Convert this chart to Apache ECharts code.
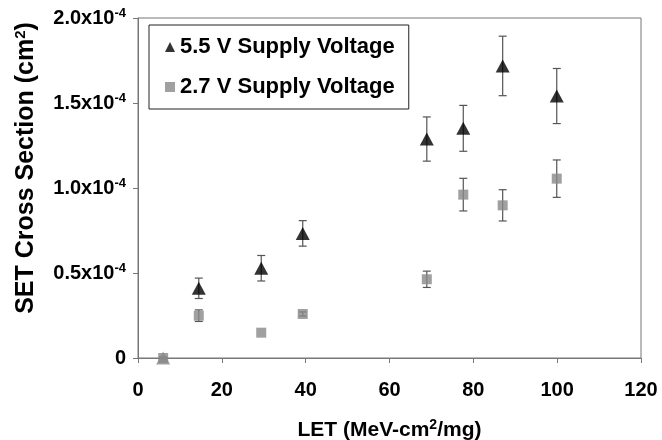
<!DOCTYPE html>
<html>
<head>
<meta charset="utf-8">
<script src="https://cdn.jsdelivr.net/npm/echarts@6/dist/echarts.min.js"></script>
<style>
html,body{margin:0;padding:0;background:#fff;}
#chart{width:662px;height:440px;}
</style>
</head>
<body>
<div id="chart"></div>
<script>
// LET values (MeV-cm^2/mg)
var letValues = [6, 14.5, 29.4, 39.3, 68.9, 77.6, 87.0, 99.9];
// 5.5 V supply voltage cross sections (cm^2) and error half-widths
var v55 = [0, 0.41e-4, 0.528e-4, 0.733e-4, 1.288e-4, 1.351e-4, 1.718e-4, 1.541e-4];
var v55Err = [0.005e-4, 0.06e-4, 0.075e-4, 0.075e-4, 0.13e-4, 0.135e-4, 0.175e-4, 0.162e-4];
// 2.7 V supply voltage cross sections (cm^2) and error half-widths
var v27 = [0, 0.249e-4, 0.149e-4, 0.259e-4, 0.463e-4, 0.961e-4, 0.898e-4, 1.055e-4];
var v27Err = [0.004e-4, 0.034e-4, 0, 0.012e-4, 0.048e-4, 0.096e-4, 0.092e-4, 0.11e-4];
var xTicks = [0, 20, 40, 60, 80, 100, 120];
var yTicks = [0, 0.5e-4, 1.0e-4, 1.5e-4, 2.0e-4];

var FONT = '"Liberation Sans", Arial, sans-serif';

function pairs(xs, ys) { return xs.map(function (x, i) { return [x, ys[i]]; }); }
function errData(xs, ys, es) { return xs.map(function (x, i) { return [x, ys[i] - es[i], ys[i] + es[i]]; }); }

function renderErr(params, api) {
  var x = api.value(0), lo = api.value(1), hi = api.value(2);
  if (hi - lo <= 0) return null;
  var pLo = api.coord([x, lo]), pHi = api.coord([x, hi]);
  var cap = 4;
  var style = { stroke: '#555', lineWidth: 1.2 };
  return {
    type: 'group',
    children: [
      { type: 'line', shape: { x1: pLo[0], y1: pLo[1], x2: pHi[0], y2: pHi[1] }, style: style },
      { type: 'line', shape: { x1: pLo[0] - cap, y1: pLo[1], x2: pLo[0] + cap, y2: pLo[1] }, style: style },
      { type: 'line', shape: { x1: pHi[0] - cap, y1: pHi[1], x2: pHi[0] + cap, y2: pHi[1] }, style: style }
    ]
  };
}

// the 5.5 V point hidden under the 2.7 V point at zero appears gray in the reference
var v55Points = pairs(letValues, v55).map(function (p) {
  return p[1] === 0 ? { value: p, itemStyle: { color: '#888' } } : p;
});

var chart = echarts.init(document.getElementById('chart'), null, { renderer: 'canvas' });
chart.setOption({
  animation: false,
  backgroundColor: '#fff',
  grid: {
    left: 138, right: 21, top: 18, bottom: 82,
    containLabel: false, outerBoundsMode: 'none',
    show: true, borderColor: '#777', borderWidth: 1
  },
  legend: {
    left: 149, top: 25,
    orient: 'vertical',
    backgroundColor: '#fff',
    borderColor: '#222', borderWidth: 1,
    padding: [11, 14, 11, 16],
    itemGap: 18,
    itemWidth: 10, itemHeight: 10,
    textStyle: { fontFamily: FONT, fontWeight: 'bold', fontSize: 22, color: '#000', lineHeight: 22 },
    data: [
      { name: '5.5 V Supply Voltage', icon: 'triangle' },
      { name: '2.7 V Supply Voltage', icon: 'rect' }
    ]
  },
  xAxis: {
    type: 'value', min: 0, max: 120, interval: 20,
    name: 'LET (MeV-cm{sup|2}/mg)',
    nameLocation: 'middle', nameGap: 60,
    nameTextStyle: {
      fontFamily: FONT, fontWeight: 'bold', fontSize: 21, color: '#000',
      rich: { sup: { fontFamily: FONT, fontWeight: 'bold', fontSize: 14, color: '#000', padding: [0, 0, 10, 0] } }
    },
    axisLine: { lineStyle: { color: '#777', width: 1 } },
    axisTick: { show: true, length: 5, lineStyle: { color: '#777' } },
    splitLine: { show: false },
    axisLabel: {
      margin: 22, fontFamily: FONT, fontWeight: 'bold', fontSize: 20, color: '#000',
      formatter: function (v) { return xTicks.indexOf(v) >= 0 ? String(v) : ''; }
    }
  },
  yAxis: {
    type: 'value', min: 0, max: 2.0e-4, interval: 0.5e-4,
    name: 'SET Cross Section (cm{sup|2})',
    nameLocation: 'middle', nameGap: 98,
    nameTextStyle: {
      fontFamily: FONT, fontWeight: 'bold', fontSize: 25, color: '#000',
      padding: [0, 0, 0, 40],
      rich: { sup: { fontFamily: FONT, fontWeight: 'bold', fontSize: 15, color: '#000', padding: [0, 0, 12, 0] } }
    },
    axisLine: { show: true, lineStyle: { color: '#777', width: 1 } },
    axisTick: { show: true, length: 5, lineStyle: { color: '#777' } },
    splitLine: { show: false },
    axisLabel: {
      margin: 12, fontFamily: FONT, fontWeight: 'bold', fontSize: 20, color: '#000',
      formatter: function (v) {
        if (Math.abs(v) < 1e-12) return '0';
        return (v / 1e-4).toFixed(1) + 'x10{sup|-4}';
      },
      rich: { sup: { fontFamily: FONT, fontWeight: 'bold', fontSize: 13, color: '#000', padding: [0, 0, 10, 0] } }
    }
  },
  series: [
    {
      name: '5.5 V err', type: 'custom', renderItem: renderErr,
      data: errData(letValues, v55, v55Err), z: 1, silent: true,
      encode: { x: 0, y: [1, 2] }
    },
    {
      name: '2.7 V err', type: 'custom', renderItem: renderErr,
      data: errData(letValues, v27, v27Err), z: 1, silent: true,
      encode: { x: 0, y: [1, 2] }
    },
    {
      name: '5.5 V Supply Voltage', type: 'scatter', symbol: 'triangle', symbolSize: [14, 13],
      itemStyle: { color: '#000' }, data: v55Points, z: 3
    },
    {
      name: '2.7 V Supply Voltage', type: 'scatter', symbol: 'rect', symbolSize: 10,
      itemStyle: { color: '#888' }, data: pairs(letValues, v27), z: 4
    }
  ]
});
</script>
</body>
</html>
